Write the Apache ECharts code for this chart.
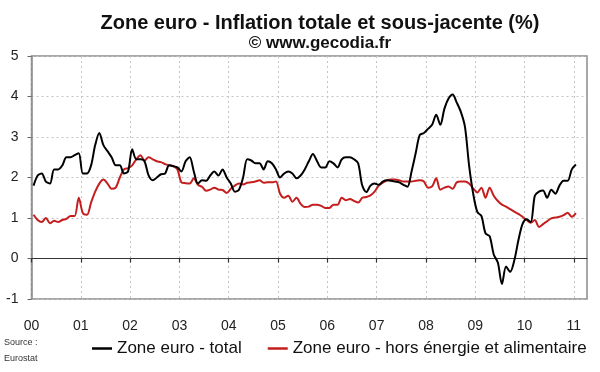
<!DOCTYPE html>
<html>
<head>
<meta charset="utf-8">
<script src="https://cdn.jsdelivr.net/npm/echarts@6/dist/echarts.min.js"></script>
<style>
html,body{margin:0;padding:0;background:#fff;}
#chart{width:600px;height:372px;}
</style>
</head>
<body>
<div id="chart"></div>
<script>
// Year tick labels (Jan of each year, 2000 -> 2011)
const tickLabels = ['00','01','02','03','04','05','06','07','08','09','10','11'];
const seriesNames = ['Zone euro - total', 'Zone euro - hors énergie et alimentaire'];
// Monthly values, Jan 2000 -> Jan 2011 (%)
const totalValues = [
  1.8, 2.05, 2.1, 1.9, 1.85, 2.2, 2.2, 2.3, 2.5, 2.5, 2.55, 2.6,
  2.1, 2.1, 2.3, 2.8, 3.1, 2.8, 2.65, 2.5, 2.3, 2.3, 2.1, 2.15,
  2.7, 2.45, 2.45, 2.4, 2.05, 1.93, 2.0, 2.08, 2.1, 2.3, 2.28, 2.25,
  2.15, 2.4, 2.5, 2.15, 1.85, 1.93, 1.92, 2.05, 2.15, 2.05, 2.2, 2.0,
  1.85, 1.65, 1.7, 2.0, 2.45, 2.42, 2.35, 2.35, 2.2, 2.4, 2.35, 2.2,
  2.0, 2.1, 2.15, 2.1, 1.98, 2.05, 2.2, 2.4, 2.58, 2.4, 2.25, 2.25,
  2.4, 2.35, 2.25, 2.45, 2.5, 2.5, 2.45, 2.35, 1.8, 1.64, 1.8, 1.85,
  1.82, 1.9, 1.93, 1.92, 1.9, 1.88, 1.82, 1.77, 2.15, 2.6, 3.05, 3.1,
  3.2, 3.3, 3.55, 3.3, 3.7, 3.95, 4.05, 3.85, 3.62, 3.25, 2.3, 1.6,
  1.15, 1.05, 0.62, 0.55, 0.1, -0.1, -0.63, -0.2, -0.33, -0.05, 0.45, 0.85,
  0.97, 0.9, 1.55, 1.65, 1.68, 1.5, 1.7, 1.6, 1.8, 1.92, 1.92, 2.2,
  2.32
];
const coreValues = [
  1.08, 0.95, 0.9, 1.0, 0.87, 0.93, 0.9, 0.95, 0.98, 1.05, 1.05, 1.5,
  1.12, 1.08, 1.38, 1.65, 1.85, 1.95, 1.85, 1.72, 1.75, 2.0, 2.2, 2.23,
  2.3, 2.45, 2.55, 2.42, 2.5, 2.45, 2.4, 2.38, 2.33, 2.3, 2.28, 2.2,
  1.88, 1.86, 1.85, 1.98, 1.82, 1.77, 1.67, 1.7, 1.75, 1.7, 1.69, 1.62,
  1.72, 1.8, 1.85, 1.83, 1.87, 1.88, 1.9, 1.93, 1.87, 1.88, 1.88, 1.9,
  1.6, 1.5, 1.55, 1.4, 1.5, 1.35, 1.27, 1.28, 1.33, 1.33, 1.3, 1.25,
  1.25, 1.33, 1.33, 1.5, 1.44, 1.47, 1.42, 1.38, 1.5, 1.52, 1.56, 1.65,
  1.8, 1.87, 1.93, 1.95, 1.95, 1.93, 1.9, 1.9, 1.9, 1.92, 1.93, 1.9,
  1.75, 1.78, 1.98, 1.7, 1.75, 1.78, 1.72, 1.88, 1.9, 1.9, 1.85, 1.73,
  1.63, 1.75, 1.5, 1.75, 1.55, 1.42, 1.33, 1.28, 1.22, 1.16, 1.1, 1.03,
  0.95, 0.88, 0.95, 0.78, 0.85, 0.92, 0.99, 1.01, 1.03, 1.07, 1.13, 1.03,
  1.12
];

const FONT = '"Liberation Sans", Arial, Helvetica, sans-serif';
const MONTHS_PER_YEAR = 12;
const tickValues = tickLabels.map((_, i) => i * MONTHS_PER_YEAR);
// each monthly point sits at the middle of its month slot
const toPoints = arr => arr.map((v, i) => [i + 0.5, v]);
const labelFmt = v => {
  const k = Math.round(v / MONTHS_PER_YEAR);
  return Math.abs(v - k * MONTHS_PER_YEAR) < 1e-6 && tickLabels[k] !== undefined ? tickLabels[k] : '';
};
const xMin = 0, xMax = 135.2;

const chart = echarts.init(document.getElementById('chart'), null, {renderer: 'canvas'});
chart.setOption({
  animation: false,
  backgroundColor: '#fff',
  textStyle: {fontFamily: FONT},
  grid: {left: 31.5, right: 13, top: 56, bottom: 73, show: true, borderColor: '#8c8c8c', borderWidth: 1.5, backgroundColor: 'transparent'},
  graphic: [
    {type: 'text', x: 320, y: 23, style: {text: 'Zone euro - Inflation totale et sous-jacente (%)', font: 'bold 20px ' + FONT, fill: '#111', textAlign: 'center', textVerticalAlign: 'middle'}},
    {type: 'text', x: 320, y: 43, style: {text: '© www.gecodia.fr', font: 'bold 17px ' + FONT, fill: '#111', textAlign: 'center', textVerticalAlign: 'middle'}},
    {type: 'text', x: 4, y: 343, style: {text: 'Source :', font: '9px ' + FONT, fill: '#333', textVerticalAlign: 'middle'}},
    {type: 'text', x: 4, y: 359, style: {text: 'Eurostat', font: '9px ' + FONT, fill: '#333', textVerticalAlign: 'middle'}}
  ],
  legend: {
    left: 92, top: 340, padding: 0, itemGap: 26, itemWidth: 20, itemHeight: 2.5, icon: 'rect',
    textStyle: {fontSize: 17, color: '#111', fontFamily: FONT},
    data: seriesNames
  },
  xAxis: [
    {
      type: 'value', min: xMin, max: xMax, interval: MONTHS_PER_YEAR, position: 'bottom',
      axisLine: {onZero: true, lineStyle: {color: '#333', width: 1.2}},
      axisTick: {show: true, length: 4, customValues: tickValues, lineStyle: {color: '#333', width: 1.2}},
      axisLabel: {show: false},
      splitLine: {show: true, lineStyle: {color: '#c4c4c4', type: [2, 3], width: 1}}
    },
    {
      type: 'value', min: xMin, max: xMax, interval: MONTHS_PER_YEAR, position: 'bottom',
      axisLine: {show: false, onZero: false},
      axisTick: {show: false},
      splitLine: {show: false},
      axisLabel: {show: true, customValues: tickValues, formatter: labelFmt, margin: 20, fontSize: 14, color: '#222', fontFamily: FONT}
    }
  ],
  yAxis: {
    type: 'value', min: -1, max: 5, interval: 1,
    axisLine: {show: true, lineStyle: {color: '#8c8c8c', width: 1.5}},
    axisTick: {show: true, length: 4, lineStyle: {color: '#666'}},
    axisLabel: {fontSize: 14, color: '#222', margin: 13, fontFamily: FONT},
    splitLine: {show: true, lineStyle: {color: '#c4c4c4', type: [2, 3], width: 1}}
  },
  series: [
    {name: seriesNames[0], type: 'line', xAxisIndex: 0, data: toPoints(totalValues), showSymbol: false, smooth: 0.3,
     lineStyle: {color: '#000', width: 2}, itemStyle: {color: '#000'}, z: 3},
    {name: seriesNames[1], type: 'line', xAxisIndex: 0, data: toPoints(coreValues), showSymbol: false, smooth: 0.3,
     lineStyle: {color: '#c41e1e', width: 2}, itemStyle: {color: '#c41e1e'}, z: 2}
  ]
});
</script>
</body>
</html>
